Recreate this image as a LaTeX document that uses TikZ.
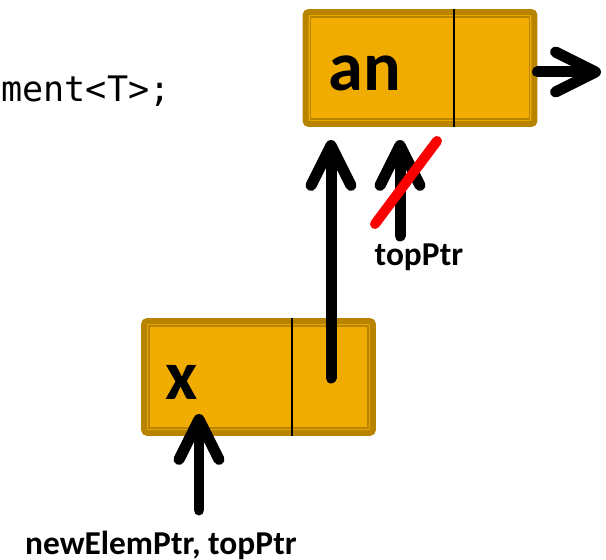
\documentclass[tikz,border=0pt]{standalone}
\usepackage{fontspec}
\setmainfont{Carlito}
\setmonofont{DejaVu Sans Mono}
\usetikzlibrary{arrows.meta, positioning, calc}
\definecolor{elemgold}{RGB}{240,172,0}
\definecolor{elemdark}{RGB}{184,132,0}
\definecolor{crossred}{RGB}{250,0,0}

\begin{document}
\begin{tikzpicture}[x=0.02cm, y=-0.02cm,
  elem/.style={draw=elemdark, fill=elemgold, line width=0.12cm, rounded corners=2pt,
    minimum width=4.58cm, minimum height=2.24cm, inner sep=0pt},
  elemin/.style={draw=elemdark, line width=0.7pt, minimum width=4.38cm, minimum height=2.04cm, inner sep=0pt},
  val/.style={font=\bfseries\fontsize{40}{40}\selectfont, inner sep=0pt, anchor=base west},
  lbl/.style={font=\bfseries\fontsize{19}{19}\selectfont, inner sep=0pt},
  ptr/.style={line width=0.22cm, line cap=round, -{Straight Barb[length=0.8cm, width=0.8cm, line cap=round, line join=round]}}]
\useasboundingbox (0,0) rectangle (606,560);

% code line (cut off at the left)
\node[font=\ttfamily\fontsize{20}{20}\selectfont, inner sep=0pt, anchor=base west] (code) at (1,102) {ment<T>;};

% top element
\node[elem] (top) at (420,68) {};
\node[elemin] (topin) at (top.center) {};
\draw[line width=0.8pt] ([xshift=0.68cm]top.north) -- ([xshift=0.68cm]top.south);
\node[val] (an) at (328,91) {an};
\coordinate (nx) at (601,72);
\draw[ptr] (top.east |- nx) -- (nx);

% new element
\node[elem] (new) at (258.5,377) {};
\node[elemin] (newin) at (new.center) {};
\draw[line width=0.8pt] ([xshift=0.67cm]new.north) -- ([xshift=0.67cm]new.south);
\node[val] (xv) at (165,400) {x};

% pointers
\coordinate (bptr) at (331,378);
\draw[ptr, shorten >=0.26cm] (bptr) -- (bptr |- top.south);
\node[lbl] (toplbl) at (419,257) {topPtr};
\coordinate (tp) at (400,236);
\draw[ptr, shorten >=0.26cm] (tp) -- (tp |- top.south);
\coordinate (c1) at (375,224);
\coordinate (c2) at (437,141);
\draw[crossred, line width=0.2cm, line cap=round] (c1) -- (c2);

\node[lbl] (newlbl) at (161,545) {newElemPtr, topPtr};
\coordinate (xb) at (199,510);
\coordinate (xt) at (199,414);
\draw[ptr] (xb) -- (xt);
\end{tikzpicture}
\end{document}
